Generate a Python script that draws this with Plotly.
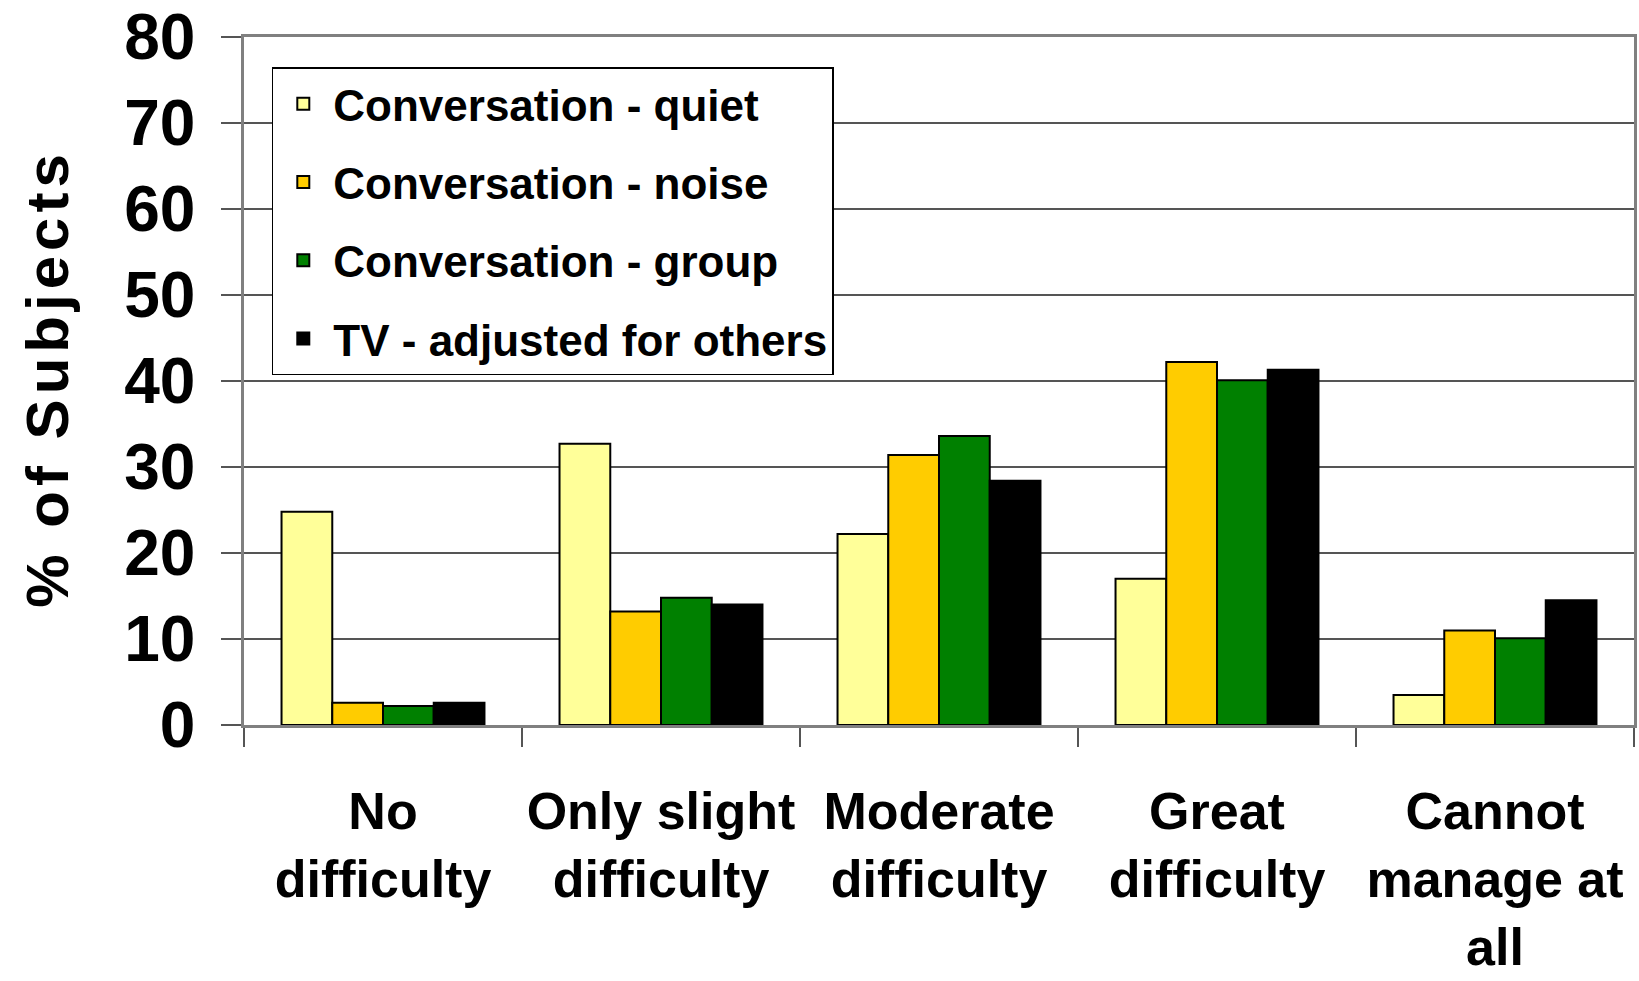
import plotly.graph_objects as go

categories = ["No<br>difficulty", "Only slight<br>difficulty", "Moderate<br>difficulty",
              "Great<br>difficulty", "Cannot<br>manage at<br>all"]
series_names = ["Conversation - quiet", "Conversation - noise",
                "Conversation - group", "TV - adjusted for others"]
quiet = [24.8, 32.7, 22.2, 17.0, 3.5]
noise = [2.6, 13.2, 31.4, 42.2, 11.0]
group = [2.2, 14.8, 33.6, 40.1, 10.1]
tv = [2.6, 14.0, 28.4, 41.3, 14.5]
colors = ["#FFFF99", "#FFCC00", "#008000", "#000000"]
y_ticks = [0, 10, 20, 30, 40, 50, 60, 70, 80]

FONT = "Liberation Sans, Arial, sans-serif"

fig = go.Figure()
for i, (name, vals) in enumerate(zip(series_names, [quiet, noise, group, tv])):
    fig.add_trace(go.Bar(
        x=categories, y=vals, name=name, legendgroup=f"g{i}",
        marker=dict(color=colors[i], line=dict(color="#000000", width=2)),
    ))

ytitle = "\u200a".join(list("% of Subjects"))

fig.update_layout(
    width=1639, height=981,
    margin=dict(l=244, r=5, t=37, b=256),
    paper_bgcolor="white", plot_bgcolor="white",
    barmode="group", bargap=0.27, bargroupgap=0.0,
    font=dict(family=FONT, color="black", weight="bold"),
    showlegend=True,
    legend=dict(
        x=0.02, y=0.956, xanchor="left", yanchor="top",
        bgcolor="white", bordercolor="black", borderwidth=1.5,
        font=dict(family=FONT, size=44, color="black", weight="bold"),
        tracegroupgap=18, traceorder="grouped", itemwidth=50,
    ),
    xaxis=dict(
        type="category", automargin=False, tickangle=0,
        showline=True, linecolor="#808080", linewidth=3, mirror=True,
        ticks="outside", tickson="boundaries", ticklen=19, tickcolor="#555555", tickwidth=1.5,
        tickfont=dict(family=FONT, size=52, color="black", weight="bold"),
        ticklabelstandoff=39,
        showgrid=False,
    ),
    yaxis=dict(
        range=[0, 80], tickvals=y_ticks, automargin=False, ticklabeloverflow="allow",
        showline=True, linecolor="#808080", linewidth=2.5, mirror=True,
        ticks="outside", ticklen=20, tickcolor="#555555", tickwidth=1.5,
        tickfont=dict(family=FONT, size=64, color="black", weight="bold"),
        ticklabelstandoff=13,
        showgrid=True, gridcolor="#555555", gridwidth=1.5,
        zeroline=False,
        title=dict(text=ytitle, standoff=37,
                   font=dict(family=FONT, size=60, color="black", weight="bold")),
    ),
)

fig.write_html("out.html", config={"displayModeBar": False},
               post_script="document.body.style.margin='0';")
